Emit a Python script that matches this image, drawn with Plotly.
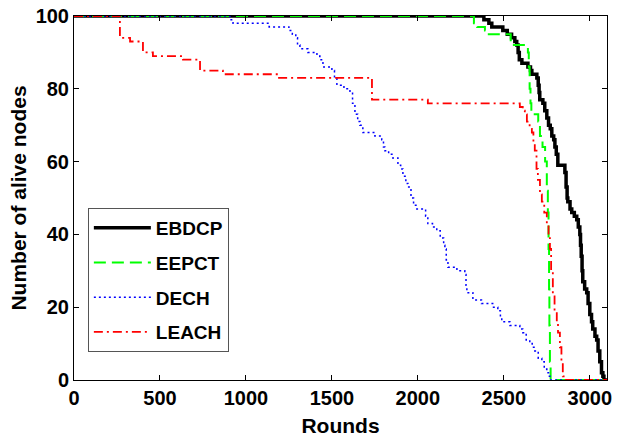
import plotly.graph_objects as go

# Alive-node counts per protocol, stored as step points (round where the count changes, new count)
ebdcp_rounds = [0, 2384, 2413, 2430, 2494, 2520, 2545, 2564, 2575, 2583, 2590, 2605, 2640, 2655,
                2663, 2692, 2700, 2705, 2709, 2727, 2738, 2750, 2760, 2770, 2779, 2790, 2797, 2805,
                2814, 2855, 2862, 2868, 2872, 2885, 2895, 2910, 2924, 2933, 2942, 2946, 2950, 2955,
                2959, 2970, 2982, 2990, 3000, 3010, 3017, 3030, 3040, 3048, 3058, 3068, 3076, 3082, 3100]
ebdcp_alive = [100, 99, 98, 97, 96, 95, 94, 93, 92, 90, 88, 87, 86, 85,
               84, 83, 81, 79, 77, 76, 74, 72, 70, 69, 67, 66, 64, 62,
               59, 57, 53, 50, 49, 47, 46, 45, 44, 42, 40, 37, 34, 30,
               27, 25, 24, 21, 18, 16, 14, 12, 11, 8, 5, 2, 1, 0, 0]

eepct_rounds = [0, 2326, 2345, 2390, 2401, 2540, 2552, 2640, 2645, 2650, 2655, 2660, 2700, 2710,
                2725, 2740, 2750, 2756, 2760, 2763, 2765, 2768, 2772, 3100]
eepct_alive = [100, 98, 97, 96, 95, 93, 92, 90, 86, 80, 76, 73, 71, 67,
               64, 60, 52, 46, 36, 25, 15, 5, 0, 0]

dech_rounds = [0, 907, 925, 960, 1135, 1250, 1270, 1290, 1300, 1314, 1360, 1413, 1430, 1448, 1500,
               1515, 1529, 1570, 1605, 1620, 1634, 1650, 1663, 1680, 1750, 1790, 1800, 1808, 1830,
               1849, 1884, 1900, 1913, 1930, 1942, 1960, 1975, 1994, 2045, 2058, 2085, 2110, 2130,
               2150, 2157, 2165, 2175, 2227, 2273, 2280, 2285, 2320, 2370, 2440, 2465, 2480, 2488,
               2535, 2593, 2610, 2630, 2651, 2665, 2680, 2700, 2721, 2735, 2750, 2760, 2768, 3100]
dech_alive = [100, 99, 98, 98, 97, 96, 95, 94, 92, 91, 90, 89, 88, 86, 85,
              83, 81, 80, 79, 76, 73, 71, 70, 68, 67, 66, 64, 63, 62,
              61, 59, 58, 56, 54, 53, 50, 48, 47, 45, 43, 42, 41, 39,
              37, 36, 33, 31, 30, 29, 26, 24, 22, 21, 20, 19, 17, 16,
              15, 14, 13, 11, 10, 9, 8, 6, 5, 3, 2, 1, 0, 0]

leach_rounds = [0, 267, 326, 401, 459, 634, 733, 866, 1186, 1733, 2058, 2593, 2610, 2622, 2634,
                2650, 2663, 2672, 2680, 2690, 2698, 2710, 2721, 2735, 2750, 2760, 2768, 2775, 2785,
                2795, 2808, 2815, 2826, 2835, 2843, 2848, 3100]
leach_alive = [100, 94, 93, 90, 89, 88, 85, 84, 83, 77, 76, 75, 74, 73, 71,
               69, 68, 65, 63, 58, 55, 51, 49, 46, 43, 39, 36, 30, 23,
               19, 16, 13, 9, 5, 1, 0, 0]

x_ticks = [0, 500, 1000, 1500, 2000, 2500, 3000]
y_ticks = [0, 20, 40, 60, 80, 100]

FONT = "Liberation Sans, Arial, Helvetica, sans-serif"

series = [
    ("EBDCP", ebdcp_rounds, ebdcp_alive, dict(color="#000000", width=3.5, dash="solid")),
    ("EEPCT", eepct_rounds, eepct_alive, dict(color="#00ff00", width=2, dash="12px,6px")),
    ("DECH", dech_rounds, dech_alive, dict(color="#0000ff", width=1.5, dash="2px,3px")),
    ("LEACH", leach_rounds, leach_alive, dict(color="#ff0000", width=1.8, dash="9px,4px,2px,4px")),
]

fig = go.Figure()
for name, xs, ys, line in series:
    fig.add_trace(go.Scatter(
        x=xs, y=ys, mode="lines", name=name, legendgroup=name,
        line=dict(shape="hv", **line),
    ))

axis_common = dict(
    showgrid=False, zeroline=False, showline=True, linecolor="#000000", linewidth=1,
    mirror="ticks", ticks="inside", ticklen=5, tickcolor="#000000", automargin=False,
    tickfont=dict(family=FONT, size=20, color="#000000", weight="bold"),
)

fig.update_layout(
    width=621, height=439,
    margin=dict(l=74, r=14, t=16, b=59),
    paper_bgcolor="#ffffff", plot_bgcolor="#ffffff",
    xaxis=dict(range=[0, 3100], tickvals=x_ticks,
               title=dict(text="Rounds", standoff=10,
                          font=dict(family=FONT, size=21, color="#000000", weight="bold")),
               **axis_common),
    yaxis=dict(range=[0, 100], tickvals=y_ticks,
               title=dict(text="Number of alive nodes", standoff=3,
                          font=dict(family=FONT, size=21, color="#000000", weight="bold")),
               **axis_common),
    legend=dict(
        x=0.026, y=0.4725, xanchor="left", yanchor="top",
        bgcolor="#ffffff", bordercolor="#555555", borderwidth=1,
        font=dict(family=FONT, size=19, color="#000000", weight="bold"),
        traceorder="grouped", tracegroupgap=7, itemwidth=57,
    ),
    showlegend=True,
)

fig.write_html("out.html")
